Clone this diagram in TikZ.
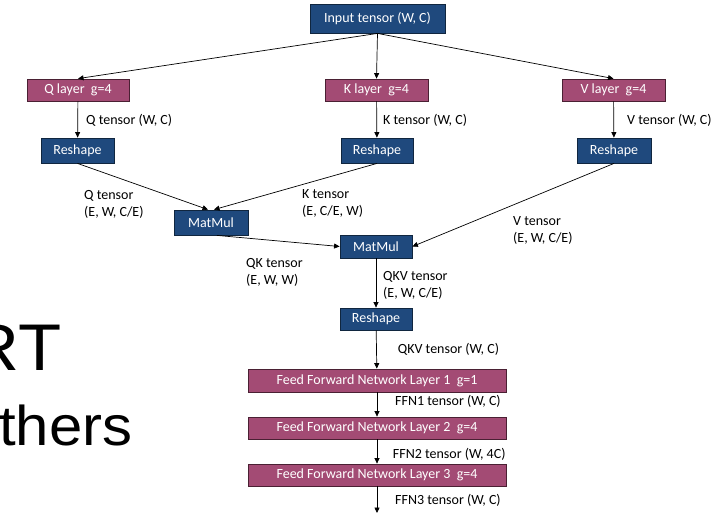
\documentclass[tikz,border=0pt]{standalone}
\usepackage{fontspec}
\setmainfont{Carlito}
\newfontfamily\slidefont{Liberation Sans}
\usetikzlibrary{arrows.meta}
\definecolor{opblue}{HTML}{1F497D}
\definecolor{opblueedge}{HTML}{10263F}
\definecolor{layerpink}{HTML}{A34B74}
\definecolor{layerpinkedge}{HTML}{4A2033}
\tikzset{
  box/.style={draw, line width=0.8pt, text=white, inner sep=0pt,
              font=\fontsize{14}{17}\selectfont, align=center},
  opbox/.style={box, fill=opblue, draw=opblueedge},
  layerbox/.style={box, fill=layerpink, draw=layerpinkedge},
  lbl/.style={inner sep=0pt, anchor=west, align=left,
              font=\fontsize{14}{17}\selectfont},
  flow/.style={line width=0.7pt, -{Triangle[length=5.5pt,width=5pt]}},
  big/.style={inner sep=0pt, anchor=base east, font=\slidefont}
}
\begin{document}
\begin{tikzpicture}[x=1pt, y={(0pt,-1pt)}]
\useasboundingbox (0,0) rectangle (720,512);
\fill[white] (0,0) rectangle (720,512);
\clip (0,0) rectangle (720,512);

% slide text behind the diagram
\node[big, font=\slidefont\fontsize{66}{70}\selectfont] (bert) at (62,370) {\scalebox{1.07}[1]{RT}};
\node[big, font=\slidefont\fontsize{56}{60}\selectfont] (others) at (132.5,445.7) {\scalebox{1.07}[1]{thers}};

% input
\node[opbox, minimum width=135pt, minimum height=29pt] (in) at (377.5,18.5) {Input tensor (W, C)};

% Q, K, V projection layers
\node[layerbox, minimum width=102pt, minimum height=22pt] (ql) at (78,90) {Q layer\ \ g=4};
\node[layerbox, minimum width=103pt, minimum height=22pt] (kl) at (376.5,90) {K layer\ \ g=4};
\node[layerbox, minimum width=103pt, minimum height=22pt] (vl) at (613.5,90) {V layer\ \ g=4};

% reshapes
\node[opbox, minimum width=73pt, minimum height=25pt] (qr) at (77.5,150.5) {Reshape};
\node[opbox, minimum width=72pt, minimum height=25pt] (kr) at (377,150.5) {Reshape};
\node[opbox, minimum width=74pt, minimum height=25pt] (vr) at (614,150.5) {Reshape};

% attention products
\node[opbox, minimum width=74pt, minimum height=25pt] (mm1) at (211,222.5) {MatMul};
\node[opbox, minimum width=72pt, minimum height=23pt] (mm2) at (376,246.5) {MatMul};
\node[opbox, minimum width=72pt, minimum height=22pt] (rs) at (376,319) {Reshape};

% feed forward stack
\node[layerbox, minimum width=258pt, minimum height=23pt] (f1) at (377,380.5) {Feed Forward Network Layer 1\ \ g=1};
\node[layerbox, minimum width=258pt, minimum height=22pt] (f2) at (377,428) {Feed Forward Network Layer 2\ \ g=4};
\node[layerbox, minimum width=258pt, minimum height=22pt] (f3) at (377,475) {Feed Forward Network Layer 3\ \ g=4};
\coordinate (out) at (377,513);

% connectors
\draw[flow] (in.south) -- (ql.north);
\draw[flow] (in.south) -- (kl.north);
\draw[flow] (in.south) -- (vl.north);
\draw[flow] (ql) -- (qr);
\draw[flow] (kl) -- (kr);
\draw[flow] (vl) -- (vr);
\draw[flow] (qr.south) -- ([xshift=-3pt]mm1.north);
\draw[flow] (kr.south) -- ([xshift=3pt]mm1.north);
\draw[flow] ([xshift=6pt]mm1.south) -- (mm2.west);
\draw[flow] (vr.south) -- (mm2.east);
\draw[flow] (mm2) -- (rs);
\draw[flow] (rs) -- (f1);
\draw[flow] (f1) -- (f2);
\draw[flow] (f2) -- (f3);
\draw[flow] (f3) -- (out);

% tensor labels
\node[lbl] (lq1) at (86,120) {Q tensor (W, C)};
\node[lbl] (lk1) at (383,120) {K tensor (W, C)};
\node[lbl] (lv1) at (627,120) {V tensor (W, C)};
\node[lbl] (lq2) at (84,204.5) {Q tensor\\(E, W, C/E)};
\node[lbl] (lk2) at (302,203.5) {K tensor\\(E, C/E, W)};
\node[lbl] (lv2) at (513,230) {V tensor\\(E, W, C/E)};
\node[lbl] (lqk) at (246,272) {QK tensor\\(E, W, W)};
\node[lbl] (lqkv) at (383,285.5) {QKV tensor\\(E, W, C/E)};
\node[lbl] (lqkv2) at (397.7,349) {QKV tensor (W, C)};
\node[lbl] (lf1) at (395,401) {FFN1 tensor (W, C)};
\node[lbl] (lf2) at (392.7,454) {FFN2 tensor (W, 4C)};
\node[lbl] (lf3) at (395,500) {FFN3 tensor (W, C)};
\end{tikzpicture}
\end{document}
